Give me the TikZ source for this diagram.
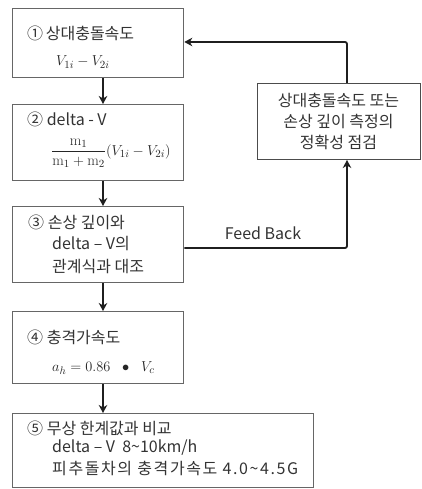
\documentclass[tikz,border=0pt]{standalone}
\usepackage{amsmath}
\usepackage{fontspec}
\newfontfamily\kr{Noto Sans CJK KR}
\newfontfamily\krwide[LetterSpace=10]{Noto Sans CJK KR}
\usetikzlibrary{arrows.meta}
\begin{document}
\begin{tikzpicture}[x=1pt,y=-1pt,
  box/.style={draw=black!60, line width=1.3pt, fill=white, inner sep=0pt, anchor=north west},
  sidebox/.style={draw=black!70, line width=1pt, fill=white, inner sep=0pt, anchor=north west},
  conn/.style={draw=black!88, line width=1.8pt, rounded corners=2pt},
  arr/.style={conn, -{Stealth[length=8pt,width=8.5pt,inset=2.5pt]}},
  txt/.style={anchor=west, inner sep=0pt, text=black!80, font=\kr\fontsize{16}{19}\selectfont},
  mth/.style={anchor=west, inner sep=0pt, text=black!85, font=\fontsize{15}{18}\selectfont},
]
\useasboundingbox (0,0) rectangle (421,489);

% boxes
\node[box, minimum width=171pt, minimum height=69pt] (b1) at (12,8) {};
\node[box, minimum width=171pt, minimum height=76pt] (b2) at (12,104) {};
\node[box, minimum width=171pt, minimum height=76pt] (b3) at (12,206) {};
\node[box, minimum width=171pt, minimum height=72pt] (b4) at (12,311) {};
\node[box, minimum width=301pt, minimum height=74pt] (b5) at (12,413) {};
\node[sidebox, minimum width=163pt, minimum height=76pt] (rb) at (257,83) {};

% texts
\node[txt] (t1) at (27,33) {①\,상대충돌속도};
\node[mth] (f1) at (56,62) {$V_{1i}-V_{2i}$};

\node[txt] (t2) at (27,119) {② delta - V};
\node[mth] (f2) at (51,153) {$\dfrac{\mathrm{m}_1}{\mathrm{m}_1+\mathrm{m}_2}(V_{1i}-V_{2i})$};

\node[txt] (t3a) at (28,222) {③ 손상 깊이와};
\node[txt] (t3b) at (52,244) {delta – V의};
\node[txt] (t3c) at (52,267) {관계식과 대조};

\node[txt] (t4) at (27,337) {④ 충격가속도};
\node[mth] (f4) at (52,368) {$a_h = 0.86\ \;\bullet\;\ V_c$};

\node[txt] (t5a) at (27,428) {⑤ 무상 한계값과 비교};
\node[txt] (t5b) at (52,448) {delta – V \ 8\textasciitilde10km/h};
\node[txt, font=\krwide\fontsize{16}{19}\selectfont] (t5c) at (52,468) {피추돌차의 충격가속도 4.0\textasciitilde4.5G};

\node[txt, anchor=center, align=center, font=\kr\fontsize{16}{21}\selectfont] (t6) at (338.5,121)
  {상대충돌속도 또는\\손상 깊이 측정의\\정확성 점검};

\node[txt, anchor=center] (fb) at (263,233) {Feed Back};

% connectors
\coordinate (ax) at (103,0);
\coordinate (c1) at (347,42);
\coordinate (c2) at (347,248);
\draw[arr] (b1.south -| ax) -- (b2.north -| ax);
\draw[arr] (b2.south -| ax) -- (b3.north -| ax);
\draw[arr] (b3.south -| ax) -- (b4.north -| ax);
\draw[arr] (b4.south -| ax) -- (b5.north -| ax);
\draw[arr] (b3.east |- c2) -- (c2) -- (rb.south -| c2);
\draw[arr] (rb.north -| c1) -- (c1) -- (b1.east |- c1);
\end{tikzpicture}
\end{document}
